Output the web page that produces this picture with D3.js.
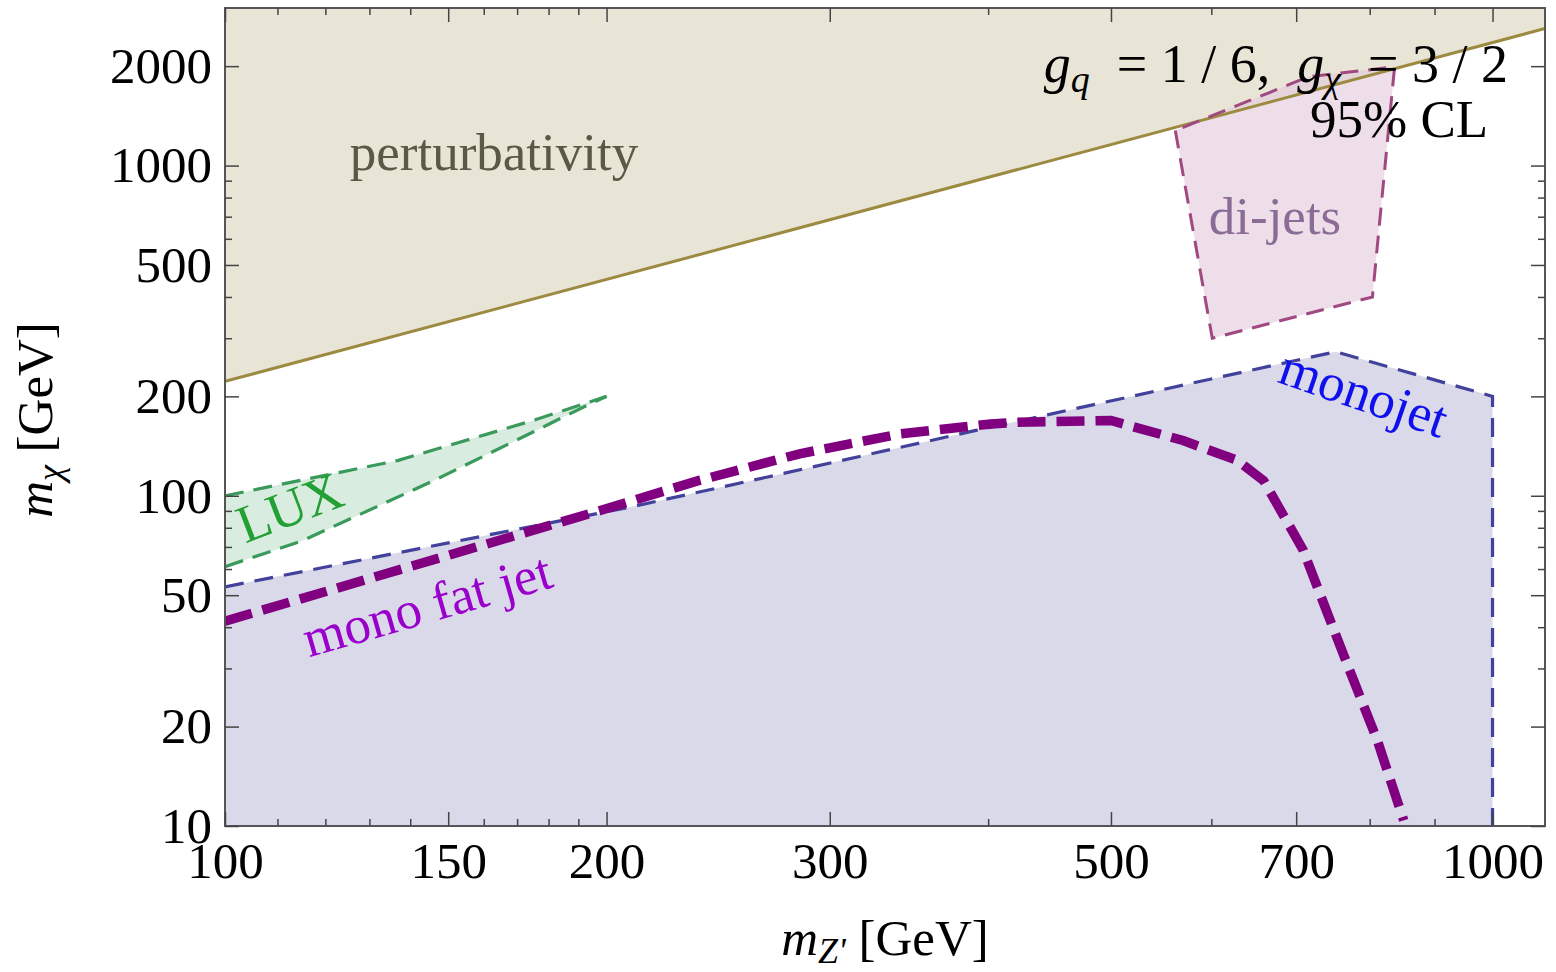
<!DOCTYPE html>
<html>
<head>
<meta charset="utf-8" />
<script src="https://d3js.org/d3.v7.min.js"></script>
<style>
  body { margin: 0; background: #fff; }
  text { font-family: "Liberation Serif", "Times New Roman", serif; }
  .axis path.domain { display: none; }
  .axis line { stroke: #444; stroke-width: 1.5px; }
  .axis text { font-size: 51px; fill: #000; font-family: "Liberation Serif", serif; }
</style>
</head>
<body>
<svg width="1556" height="972"></svg>
<script>
// tick values
var xMajor = [100, 150, 200, 300, 500, 700, 1000];
var xMinor = [110, 120, 130, 140, 160, 170, 180, 190, 400, 600, 800, 900];
var yMajor = [10, 20, 50, 100, 200, 500, 1000, 2000];
var yMinor = [30, 40, 60, 70, 80, 90, 300, 400, 600, 700, 800, 900];

// perturbativity bound (m_Z', m_chi)
var pertZ = [100, 1100];
var pertChi = [222, 2600];

// LUX excluded band
var luxUpperZ = [100, 137, 175, 200];
var luxUpperChi = [100, 128, 169, 200];
var luxLowerZ = [100, 115, 146, 175, 192, 200];
var luxLowerChi = [61, 73, 111, 156, 186, 200];

// monojet excluded region (top edge then right edge)
var monoZ = [100, 209, 268, 392, 752, 1000, 1000];
var monoChi = [53, 92.5, 114, 158, 273, 200, 10];

// di-jets region
var dijetZ = [562, 601, 804, 837, 716, 562];
var dijetChi = [1276, 300, 400, 1990, 1858, 1276];

// mono fat jet curve
var fatZ = [100, 198, 237, 284, 341, 402, 422, 500, 570, 629, 660, 709, 741, 773, 811, 851];
var fatChi = [41.7, 90.4, 111.5, 134, 154, 165, 167, 169, 147, 128, 111, 68.4, 44, 29, 18.2, 10.4];

function zip(a, b) { return a.map(function(v, i) { return [v, b[i]]; }); }

var svg = d3.select("svg");
var plotL = 225, plotR = 1545, plotT = 8, plotB = 826;

var x = d3.scaleLog().domain([100, 1100]).range([plotL, plotR]);
var y = d3.scaleLog().domain([10, 3000]).range([plotB, plotT]);

var line = d3.line().x(function(d) { return x(d[0]); }).y(function(d) { return y(d[1]); });

svg.append("defs").append("clipPath").attr("id", "clip")
  .append("rect").attr("x", plotL).attr("y", plotT)
  .attr("width", plotR - plotL).attr("height", plotB - plotT);

var plot = svg.append("g").attr("clip-path", "url(#clip)");

// perturbativity fill
var pert = zip(pertZ, pertChi);
plot.append("path")
  .attr("d", line(pert.concat([[1100, 3000], [100, 3000]])) + "Z")
  .attr("fill", "#e8e5d7");

// monojet fill
var mono = zip(monoZ, monoChi);
plot.append("path")
  .attr("d", line([[100, 10]].concat(mono)) + "Z")
  .attr("fill", "#d9d9ea");

// di-jets fill
var dijet = zip(dijetZ, dijetChi);
plot.append("path")
  .attr("d", line(dijet) + "Z")
  .attr("fill", "#e3c8da")
  .attr("fill-opacity", 0.6);

// LUX fill
var luxUp = zip(luxUpperZ, luxUpperChi);
var luxLo = zip(luxLowerZ, luxLowerChi);
plot.append("path")
  .attr("d", line(luxUp.concat(luxLo.slice().reverse())) + "Z")
  .attr("fill", "#d9ece0");

// outlines
plot.append("path")
  .attr("d", line(pert))
  .attr("fill", "none").attr("stroke", "#9c8a40").attr("stroke-width", 3);

plot.append("path")
  .attr("d", line(dijet))
  .attr("fill", "none").attr("stroke", "#a04882").attr("stroke-width", 3)
  .attr("stroke-dasharray", "18,10");

[luxUp, luxLo].forEach(function(l) {
  plot.append("path")
    .attr("d", line(l))
    .attr("fill", "none").attr("stroke", "#3a9a5c").attr("stroke-width", 3.2)
    .attr("stroke-dasharray", "19,10");
});

plot.append("path")
  .attr("d", line(mono))
  .attr("fill", "none").attr("stroke", "#42429c").attr("stroke-width", 3.2)
  .attr("stroke-dasharray", "19,11");

plot.append("path")
  .attr("d", line(zip(fatZ, fatChi)))
  .attr("fill", "none").attr("stroke", "#800080").attr("stroke-width", 9.5)
  .attr("stroke-dasharray", "28,11");

// labels inside the plot
function label(txt, px, py, rot, color, anchor) {
  svg.append("text")
    .attr("transform", "translate(" + px + "," + py + ") rotate(" + rot + ")")
    .attr("text-anchor", anchor || "middle")
    .style("font-size", "53px")
    .attr("fill", color)
    .text(txt);
}
label("perturbativity", 494, 170, 0, "#5b5945");
label("di-jets", 1275, 234, 0, "#8a6c96");
label("monojet", 1358, 410, 19, "#1010ee");
label("LUX", 296, 524, -21, "#22a033");
label("mono fat jet", 432, 622, -16, "#9a00cc");

var cpl = svg.append("text").attr("x", 1508).attr("y", 82)
  .attr("text-anchor", "end").style("font-size", "54px").attr("fill", "#000");
cpl.append("tspan").style("font-style", "italic").text("g");
cpl.append("tspan").attr("dy", 10).style("font-size", "38px").style("font-style", "italic").text("q");
cpl.append("tspan").attr("dy", -10).text("\u00a0\u00a0=\u00a01\u00a0/\u00a06,\u00a0\u00a0");
cpl.append("tspan").style("font-style", "italic").text("g");
cpl.append("tspan").attr("dy", 10).style("font-size", "38px").style("font-style", "italic").text("\u03c7");
cpl.append("tspan").attr("dy", -10).text("\u00a0\u00a0=\u00a03\u00a0/\u00a02");

svg.append("text").attr("x", 1310).attr("y", 137)
  .style("font-size", "53px").attr("fill", "#000").text("95% CL");

// frame
svg.append("rect")
  .attr("x", plotL).attr("y", plotT)
  .attr("width", plotR - plotL).attr("height", plotB - plotT)
  .attr("fill", "none").attr("stroke", "#555").attr("stroke-width", 2);

// axes
var fmt = d3.format("d");
svg.append("g").attr("class", "axis")
  .attr("transform", "translate(0," + plotB + ")")
  .call(d3.axisBottom(x).tickValues(xMajor).tickFormat(fmt).tickSize(-14).tickPadding(16));
svg.append("g").attr("class", "axis")
  .attr("transform", "translate(0," + plotB + ")")
  .call(d3.axisBottom(x).tickValues(xMinor).tickFormat("").tickSize(-7));
svg.append("g").attr("class", "axis")
  .attr("transform", "translate(0," + plotT + ")")
  .call(d3.axisTop(x).tickValues(xMajor).tickFormat("").tickSize(-14));
svg.append("g").attr("class", "axis")
  .attr("transform", "translate(0," + plotT + ")")
  .call(d3.axisTop(x).tickValues(xMinor).tickFormat("").tickSize(-7));

svg.append("g").attr("class", "axis")
  .attr("transform", "translate(" + plotL + ",0)")
  .call(d3.axisLeft(y).tickValues(yMajor).tickFormat(fmt).tickSize(-14).tickPadding(13));
svg.append("g").attr("class", "axis")
  .attr("transform", "translate(" + plotL + ",0)")
  .call(d3.axisLeft(y).tickValues(yMinor).tickFormat("").tickSize(-7));
svg.append("g").attr("class", "axis")
  .attr("transform", "translate(" + plotR + ",0)")
  .call(d3.axisRight(y).tickValues(yMajor).tickFormat("").tickSize(-14));
svg.append("g").attr("class", "axis")
  .attr("transform", "translate(" + plotR + ",0)")
  .call(d3.axisRight(y).tickValues(yMinor).tickFormat("").tickSize(-7));

// axis titles
var xt = svg.append("text").attr("x", 885).attr("y", 955)
  .attr("text-anchor", "middle").style("font-size", "51px");
xt.append("tspan").style("font-style", "italic").text("m");
xt.append("tspan").attr("dy", 8).style("font-size", "36px").style("font-style", "italic").text("Z'");
xt.append("tspan").attr("dy", -8).text("\u00a0[GeV]");

var yt = svg.append("text")
  .attr("transform", "translate(52,420) rotate(-90)")
  .attr("text-anchor", "middle").style("font-size", "51px");
yt.append("tspan").style("font-style", "italic").text("m");
yt.append("tspan").attr("dy", 10).style("font-size", "36px").style("font-style", "italic").text("\u03c7");
yt.append("tspan").attr("dy", -10).text("\u00a0[GeV]");
</script>
</body>
</html>
